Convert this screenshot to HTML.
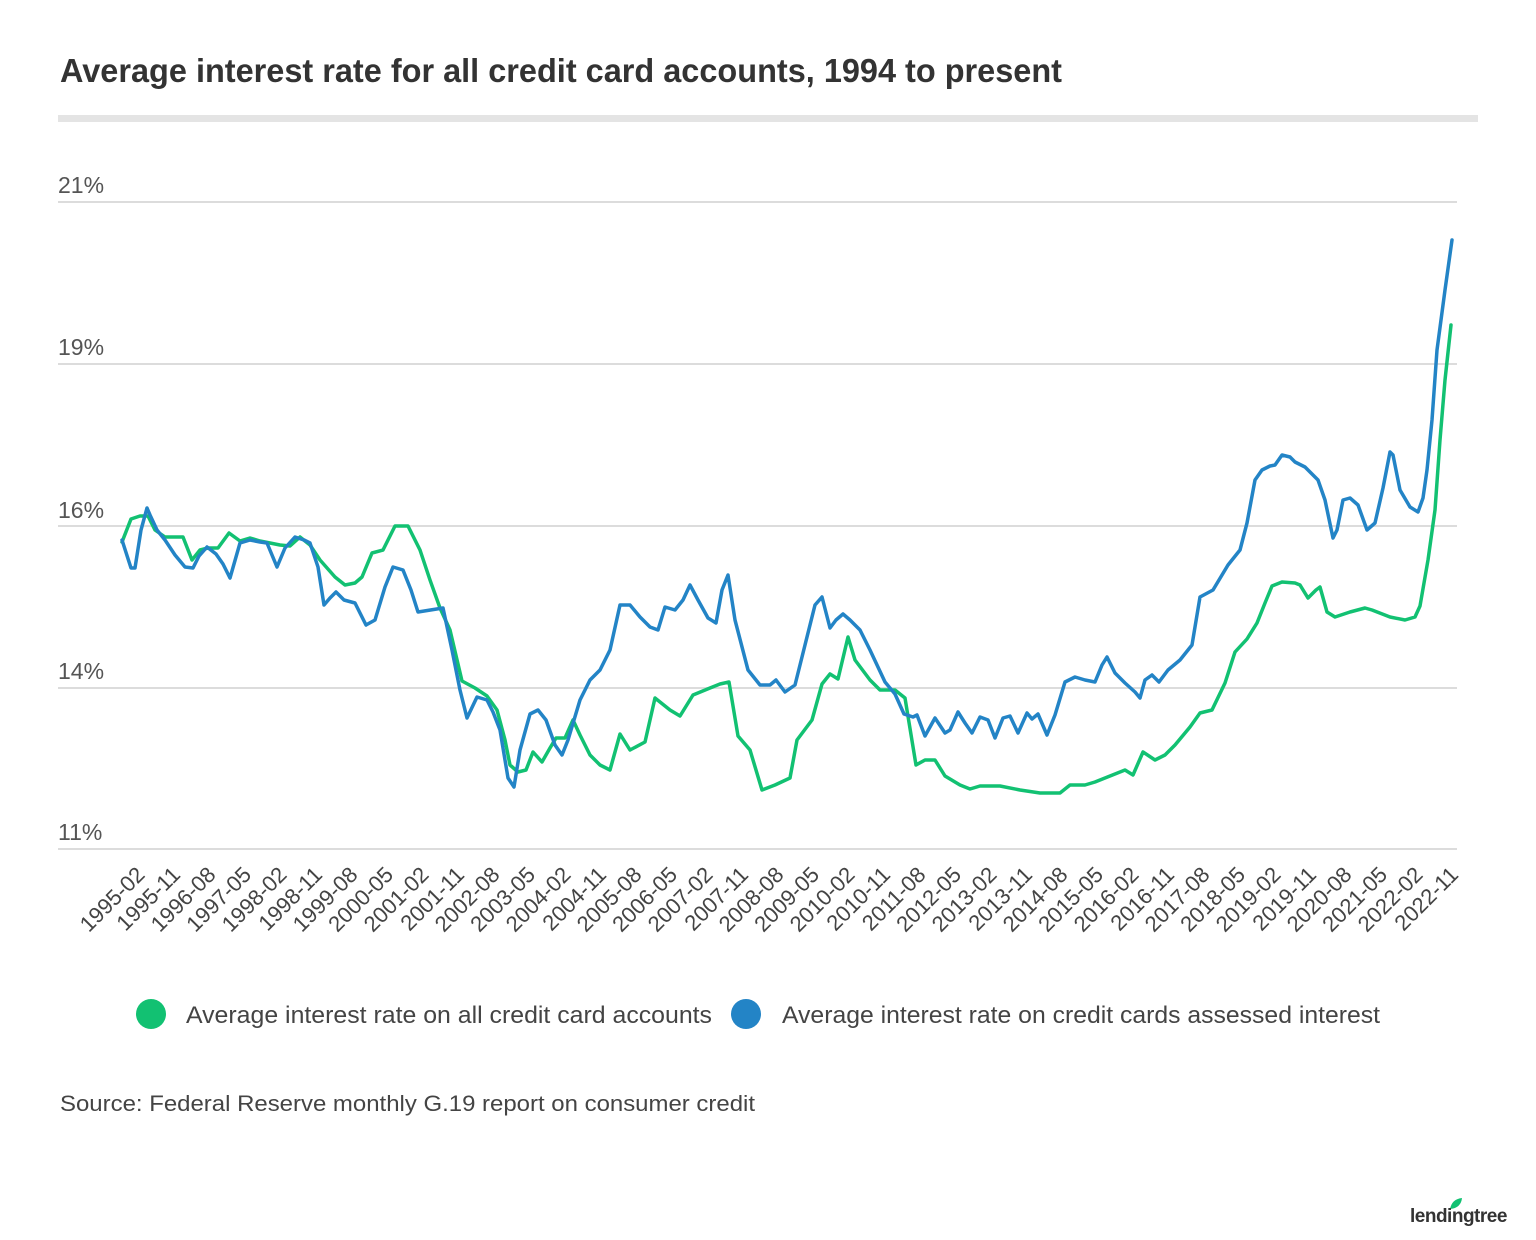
<!DOCTYPE html>
<html><head><meta charset="utf-8"><style>
body{margin:0;background:#fff;width:1536px;height:1240px;overflow:hidden;font-family:"Liberation Sans",sans-serif;}
</style></head><body>
<svg width="1536" height="1240" xmlns="http://www.w3.org/2000/svg" style="position:absolute;left:0;top:0">
<text x="60" y="82" font-size="33" font-weight="bold" fill="#333" textLength="1002" lengthAdjust="spacingAndGlyphs">Average interest rate for all credit card accounts, 1994 to present</text>
<rect x="58" y="115" width="1420" height="7" fill="#e4e4e4"/>
<g stroke="#dcdcdc" stroke-width="2">
<line x1="58" x2="1457" y1="202" y2="202"/><line x1="58" x2="1457" y1="364" y2="364"/>
<line x1="58" x2="1457" y1="526" y2="526"/><line x1="58" x2="1457" y1="688" y2="688"/>
<line x1="58" x2="1457" y1="849" y2="849"/></g>
<g font-size="23" fill="#555">
<text x="58" y="193">21%</text><text x="58" y="355">19%</text><text x="58" y="518">16%</text><text x="58" y="679">14%</text><text x="58" y="840">11%</text></g>
<g fill="none" stroke-width="3.5" stroke-linejoin="round" stroke-linecap="round">
<polyline stroke="#12c172" points="122,542 131,519 140,516 148,516 155,530 165,537 183,537 192,560 200,550 208,548 218,548 229,533 240,541 250,538 260,541 280,545 290,546 300,537 310,545 320,560 335,577 345,585 355,583 362,577 372,553 383,550 395,526 408,526 420,550 430,580 440,608 450,630 462,681 475,688 487,696 497,710 505,740 510,765 518,772 526,770 533,752 542,762 550,748 556,738 565,738 573,720 580,735 590,755 600,765 610,770 620,734 630,750 645,742 655,698 670,710 680,716 693,695 710,688 720,684 729,682 738,736 750,750 762,790 775,785 790,778 797,740 812,720 822,684 830,674 838,679 848,637 855,660 870,680 880,690 895,690 905,698 916,765 925,760 935,760 945,776 960,785 970,789 980,786 1000,786 1020,790 1040,793 1060,793 1070,785 1085,785 1095,782 1110,776 1125,770 1133,775 1143,752 1155,760 1165,755 1175,745 1190,727 1200,713 1212,710 1225,683 1235,652 1247,639 1257,623 1265,603 1272,586 1282,582 1295,583 1300,585 1308,598 1316,590 1320,587 1327,612 1335,617 1350,612 1365,608 1372,610 1390,617 1405,620 1415,617 1420,606 1428,560 1435,510 1440,440 1445,380 1451,325"/>
<polyline stroke="#2384c6" points="122,540 131,568 135,568 141,530 147,508 150,515 157,530 165,540 175,555 185,567 193,568 199,556 207,547 216,554 223,564 230,578 240,543 250,540 260,542 267,543 277,567 285,548 295,537 304,540 310,543 318,567 324,605 330,598 336,592 344,600 355,603 366,625 375,620 385,587 393,567 403,570 411,590 418,612 443,608 452,650 460,690 467,718 477,697 487,700 493,712 500,730 508,778 514,787 520,750 530,714 538,710 546,720 555,745 562,755 568,740 580,700 590,680 600,670 610,650 620,605 630,605 640,617 650,627 658,630 665,607 675,610 683,600 690,585 698,600 708,618 716,623 722,590 728,575 735,620 748,670 760,685 770,685 776,680 785,692 795,685 805,645 815,605 822,597 830,628 836,620 843,614 850,620 860,630 870,650 885,682 895,694 904,714 913,717 917,715 925,736 935,718 945,733 950,730 958,712 965,723 972,733 980,717 988,720 995,738 1003,718 1010,716 1018,733 1027,713 1032,719 1038,714 1047,735 1055,715 1065,682 1075,677 1085,680 1095,682 1102,665 1107,657 1115,673 1125,683 1135,692 1140,698 1145,680 1152,675 1159,682 1168,670 1180,660 1192,645 1200,597 1213,590 1228,565 1240,550 1247,523 1255,480 1262,470 1270,466 1275,465 1282,455 1290,457 1295,462 1305,467 1318,480 1325,500 1333,538 1337,530 1343,500 1350,498 1358,505 1367,530 1375,523 1383,488 1390,452 1393,455 1400,490 1410,507 1418,512 1423,498 1427,470 1432,420 1437,350 1445,290 1452,240"/>
</g>
<g font-size="22" fill="#444" text-anchor="end">
<text transform="translate(146,876) rotate(-45)">1995-02</text>
<text transform="translate(181.5,876) rotate(-45)">1995-11</text>
<text transform="translate(217,876) rotate(-45)">1996-08</text>
<text transform="translate(252.5,876) rotate(-45)">1997-05</text>
<text transform="translate(288,876) rotate(-45)">1998-02</text>
<text transform="translate(323.5,876) rotate(-45)">1998-11</text>
<text transform="translate(359,876) rotate(-45)">1999-08</text>
<text transform="translate(394.5,876) rotate(-45)">2000-05</text>
<text transform="translate(430,876) rotate(-45)">2001-02</text>
<text transform="translate(465.5,876) rotate(-45)">2001-11</text>
<text transform="translate(501,876) rotate(-45)">2002-08</text>
<text transform="translate(536.5,876) rotate(-45)">2003-05</text>
<text transform="translate(572,876) rotate(-45)">2004-02</text>
<text transform="translate(607.5,876) rotate(-45)">2004-11</text>
<text transform="translate(643,876) rotate(-45)">2005-08</text>
<text transform="translate(678.5,876) rotate(-45)">2006-05</text>
<text transform="translate(714,876) rotate(-45)">2007-02</text>
<text transform="translate(749.5,876) rotate(-45)">2007-11</text>
<text transform="translate(785,876) rotate(-45)">2008-08</text>
<text transform="translate(820.5,876) rotate(-45)">2009-05</text>
<text transform="translate(856,876) rotate(-45)">2010-02</text>
<text transform="translate(891.5,876) rotate(-45)">2010-11</text>
<text transform="translate(927,876) rotate(-45)">2011-08</text>
<text transform="translate(962.5,876) rotate(-45)">2012-05</text>
<text transform="translate(998,876) rotate(-45)">2013-02</text>
<text transform="translate(1033.5,876) rotate(-45)">2013-11</text>
<text transform="translate(1069,876) rotate(-45)">2014-08</text>
<text transform="translate(1104.5,876) rotate(-45)">2015-05</text>
<text transform="translate(1140,876) rotate(-45)">2016-02</text>
<text transform="translate(1175.5,876) rotate(-45)">2016-11</text>
<text transform="translate(1211,876) rotate(-45)">2017-08</text>
<text transform="translate(1246.5,876) rotate(-45)">2018-05</text>
<text transform="translate(1282,876) rotate(-45)">2019-02</text>
<text transform="translate(1317.5,876) rotate(-45)">2019-11</text>
<text transform="translate(1353,876) rotate(-45)">2020-08</text>
<text transform="translate(1388.5,876) rotate(-45)">2021-05</text>
<text transform="translate(1424,876) rotate(-45)">2022-02</text>
<text transform="translate(1459.5,876) rotate(-45)">2022-11</text>
</g>
<circle cx="151" cy="1014" r="15" fill="#12c172"/>
<circle cx="746" cy="1014" r="15" fill="#2384c6"/>
<g font-size="24" fill="#444">
<text x="186" y="1023" textLength="526" lengthAdjust="spacingAndGlyphs">Average interest rate on all credit card accounts</text>
<text x="782" y="1023" textLength="598" lengthAdjust="spacingAndGlyphs">Average interest rate on credit cards assessed interest</text>
</g>
<text x="60" y="1111" font-size="22" fill="#444" textLength="695" lengthAdjust="spacingAndGlyphs">Source: Federal Reserve monthly G.19 report on consumer credit</text>
<path d="M1450,1209 q2,-10 12,-11 q-1,10 -12,11z" fill="#12c172"/>
<text x="1410" y="1222" font-size="19" font-weight="bold" fill="#333" letter-spacing="-0.5">lendingtree</text>
</svg>
</body></html>
